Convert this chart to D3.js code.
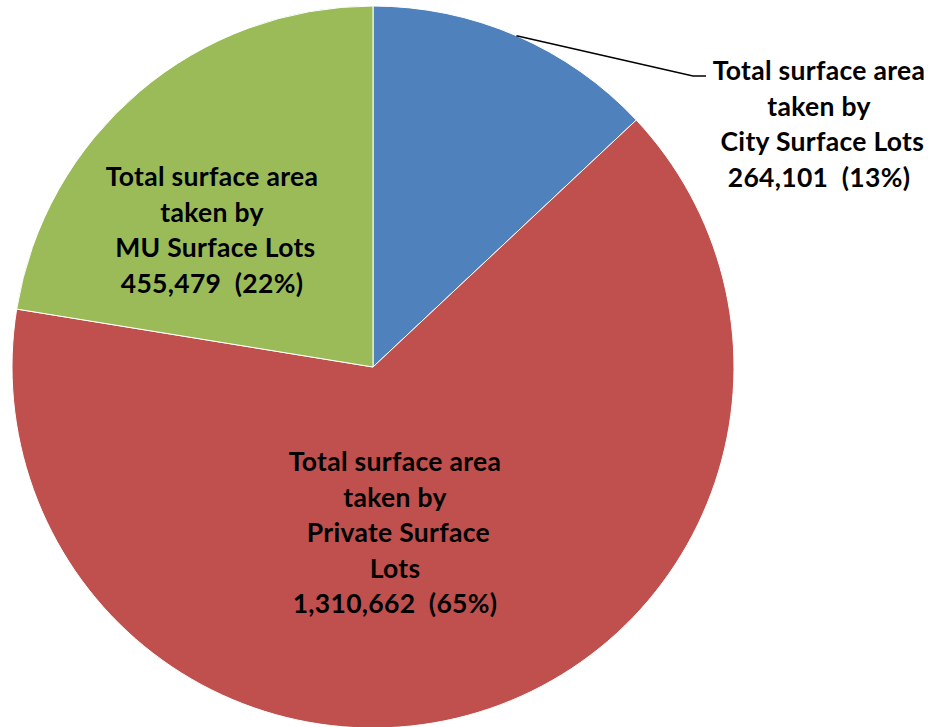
<!DOCTYPE html>
<html>
<head>
<meta charset="utf-8">
<script src="https://cdn.jsdelivr.net/npm/d3@7"></script>
<style>
  body { margin: 0; background: #fff; }
  text { font-family: Lato, "Open Sans", sans-serif; font-weight: bold; fill: #000; white-space: pre; }
</style>
</head>
<body>
<div id="chart"></div>
<script>
// slice data, clockwise from 12 o'clock
var categories = ['City Surface Lots', 'Private Surface Lots', 'MU Surface Lots'];
var values = [264101, 1310662, 455479];
var percents = ['13%', '65%', '22%'];
var labelLines = [
  ['Total surface area', 'taken by', ' City Surface Lots', '264,101  (13%)'],
  ['Total surface area', 'taken by', ' Private Surface', 'Lots', '1,310,662  (65%)'],
  ['Total surface area', 'taken by', ' MU Surface Lots', '455,479  (22%)']
];
var colors = ['#4F81BD', '#C0504D', '#9BBB59'];

var w = 936, h = 727;
var cx = 373, cy = 367, r = 361;
var lineH = 35.5;

var svg = d3.select('#chart').append('svg')
    .attr('width', w)
    .attr('height', h);

var pie = d3.pie().sort(null).value(function(d) { return d; });
var arcs = pie(values);
var arc = d3.arc().innerRadius(0).outerRadius(r);

var g = svg.append('g').attr('transform', 'translate(' + cx + ',' + cy + ')');

g.selectAll('path')
    .data(arcs)
  .enter()
  .append('path')
    .attr('d', arc)
    .attr('fill', function(d, i) { return colors[i]; })
    .attr('stroke', '#fff')
    .attr('stroke-width', 1);

// label centers (relative to pie center); first label sits outside with a leader line
var labelPos = [[446, -243], [22, 166], [-161, -137]];

// leader line for the small slice
var a0 = (arcs[0].startAngle + arcs[0].endAngle) / 2;
var ex = Math.sin(a0) * r, ey = -Math.cos(a0) * r;
g.append('polyline')
    .attr('points', [[ex, ey], [320, -291], [333, -291]].map(function(p) { return p.join(','); }).join(' '))
    .attr('fill', 'none')
    .attr('stroke', '#000')
    .attr('stroke-width', 1.5);

labelLines.forEach(function(lines, i) {
  var t = g.append('text')
      .attr('text-anchor', 'middle')
      .attr('font-size', 26.5)
      .attr('letter-spacing', 0.3)
      .attr('x', labelPos[i][0])
      .attr('y', labelPos[i][1] - (lines.length - 1) * lineH / 2);
  lines.forEach(function(s, j) {
    t.append('tspan')
        .attr('x', labelPos[i][0])
        .attr('dy', j === 0 ? '0.35em' : lineH)
        .text(s);
  });
});
</script>
</body>
</html>
